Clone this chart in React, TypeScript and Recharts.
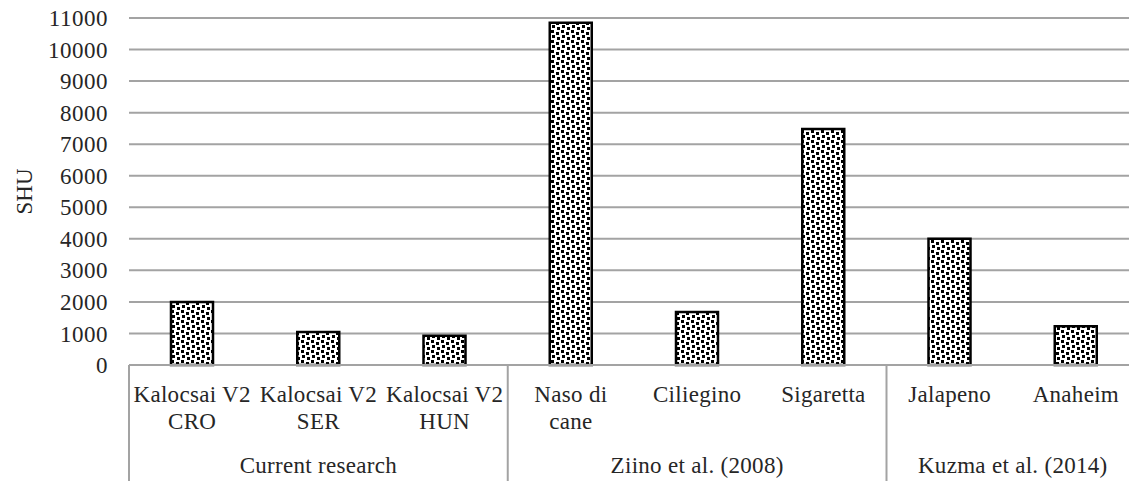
import React from "react";
import { BarChart, Bar, XAxis, YAxis, CartesianGrid } from "recharts";

const labelTop = [
  "Kalocsai V2",
  "Kalocsai V2",
  "Kalocsai V2",
  "Naso di",
  "Ciliegino",
  "Sigaretta",
  "Jalapeno",
  "Anaheim",
];
const labelBottom = ["CRO", "SER", "HUN", "cane", "", "", "", ""];
const groupNames = ["Current research", "Ziino et al. (2008)", "Kuzma et al. (2014)"];
const groupIndex = [0, 0, 0, 1, 1, 1, 2, 2];
const shu = [2000, 1050, 930, 10850, 1680, 7480, 4000, 1230];
const yTicks = [0, 1000, 2000, 3000, 4000, 5000, 6000, 7000, 8000, 9000, 10000, 11000];

const data = labelTop.map((name, i) => ({
  name: i,
  shu: shu[i],
}));

const FONT = "'Liberation Serif', serif";
const SIZE = 23;
const TEXT = "#262626";
const GRID = "#a3a3a3";
const textStyle = { fontFamily: FONT, fontSize: SIZE, fill: TEXT };

function CategoryTick(props: any) {
  const { x, y, payload, width } = props;
  const i = payload.index ?? payload.value;
  const step = width / labelTop.length;
  const g = groupIndex[i];
  const first = i === 0 || groupIndex[i - 1] !== g;
  const count = groupIndex.filter((v) => v === g).length;
  const left = x - step / 2;
  const st = { ...textStyle, letterSpacing: 0.3 };
  return (
    <g>
      <text x={x} y={y + 37} textAnchor="middle" style={st}>
        {labelTop[i]}
      </text>
      {labelBottom[i] && (
        <text x={x} y={y + 64} textAnchor="middle" style={st}>
          {labelBottom[i]}
        </text>
      )}
      {first && (
        <>
          <line x1={left} x2={left} y1={y} y2={y + 116} stroke={GRID} strokeWidth={2} />
          <text x={left + (count * step) / 2} y={y + 108} textAnchor="middle" style={st}>
            {groupNames[g]}
          </text>
        </>
      )}
      {i === labelTop.length - 1 && (
        <line x1={x + step / 2} x2={x + step / 2} y1={y} y2={y + 116} stroke={GRID} strokeWidth={2} />
      )}
    </g>
  );
}

function ValueTick(props: any) {
  const { x, y, payload } = props;
  return (
    <text x={x} y={y} dy="0.35em" textAnchor="end" style={{ ...textStyle, letterSpacing: 0.5 }}>
      {payload.value}
    </text>
  );
}

function YLabel(props: any) {
  const { viewBox } = props;
  const cx = viewBox.x + 24;
  const cy = viewBox.y + viewBox.height / 2;
  return (
    <text
      x={cx}
      y={cy}
      transform={`rotate(-90 ${cx} ${cy})`}
      textAnchor="middle"
      dominantBaseline="central"
      style={textStyle}
    >
      SHU
    </text>
  );
}

export default function App() {
  return (
    <div
      style={{
        position: "absolute",
        left: 0,
        top: 0,
        width: 1129,
        height: 481,
        overflow: "hidden",
        background: "#fff",
      }}
    >
      <BarChart
        width={1150}
        height={481}
        data={data}
        margin={{ top: 18, right: 11, left: 0, bottom: 0 }}
      >
        <defs>
          <pattern id="dots" width="10" height="10" patternUnits="userSpaceOnUse">
            <rect width="10" height="10" fill="#fff" />
            <rect x="1" y="0" width="3" height="3" fill="#000" />
            <rect x="6" y="2" width="3" height="3" fill="#000" />
            <rect x="2" y="5" width="3" height="3" fill="#000" />
            <rect x="7" y="7" width="3" height="3" fill="#000" />
          </pattern>
        </defs>
        <CartesianGrid vertical={false} stroke={GRID} strokeWidth={2} />
        <XAxis
          dataKey="name"
          type="category"
          axisLine={{ stroke: GRID, strokeWidth: 2 }}
          tickLine={false}
          tickSize={0}
          tickMargin={0}
          height={116}
          interval={0}
          tick={<CategoryTick />}
        />
        <YAxis
          width={129}
          domain={[0, 11000]}
          ticks={yTicks}
          interval={0}
          axisLine={false}
          tickLine={false}
          tickMargin={15}
          tick={<ValueTick />}
          label={<YLabel />}
        />
        <Bar
          dataKey="shu"
          fill="url(#dots)"
          stroke="#000"
          strokeWidth={2.5}
          barSize={42}
          isAnimationActive={false}
        />
      </BarChart>
    </div>
  );
}
